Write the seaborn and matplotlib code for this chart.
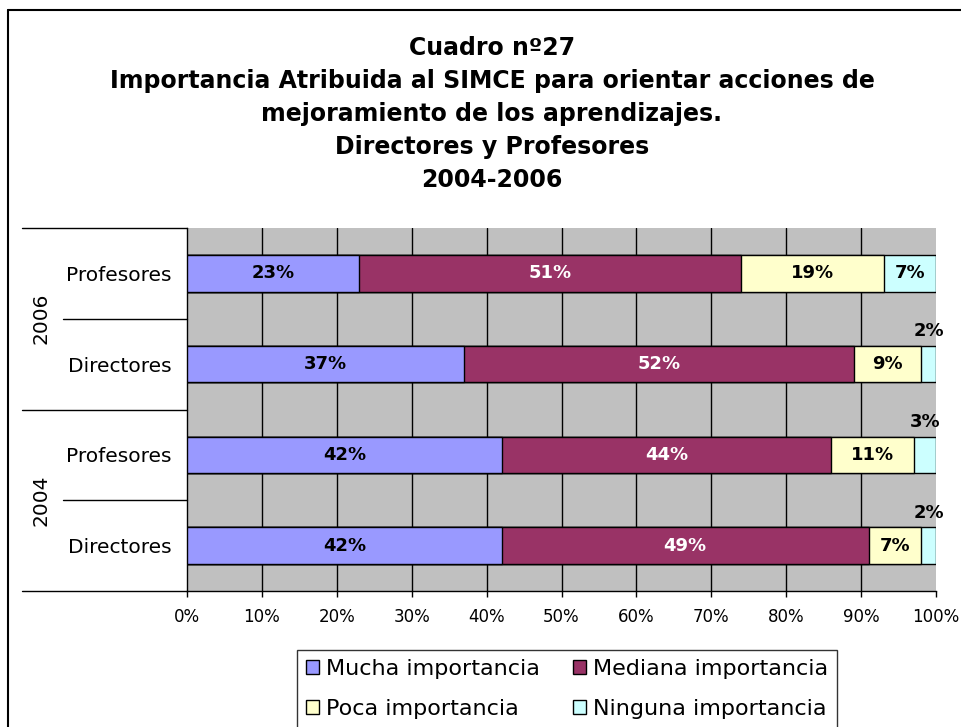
import numpy as np
import pandas as pd
import matplotlib
matplotlib.use("Agg")
import matplotlib.pyplot as plt
from matplotlib.lines import Line2D
from matplotlib.patches import Patch
import seaborn as sns

# data (percent of respondents)
rows = ["2006 Profesores", "2006 Directores", "2004 Profesores", "2004 Directores"]
row_labels = ["Profesores", "Directores", "Profesores", "Directores"]
years = ["2006", "2004"]
series = ["Mucha importancia", "Mediana importancia", "Poca importancia", "Ninguna importancia"]
mucha = [23, 37, 42, 42]
mediana = [51, 52, 44, 49]
poca = [19, 9, 11, 7]
ninguna = [7, 2, 3, 2]
colors = ["#9999FF", "#993366", "#FFFFCC", "#CCFFFF"]
text_colors = ["black", "white", "black", "black"]
x_ticks = [0, 10, 20, 30, 40, 50, 60, 70, 80, 90, 100]

title = ("Cuadro nº27\n"
         "Importancia Atribuida al SIMCE para orientar acciones de\n"
         "mejoramiento de los aprendizajes.\n"
         "Directores y Profesores\n"
         "2004-2006")

sns.set_theme(style="white")
plt.rcParams['font.family'] = ['DejaVu Sans']
plt.rcParams.update({"text.color": "black", "xtick.color": "black",
                     "ytick.color": "black", "axes.labelcolor": "black"})

fig = plt.figure(figsize=(9.62, 7.27), dpi=100)
ax = fig.add_axes([187 / 962, 136 / 727, 749 / 962, 363 / 727])
ax.set_facecolor("#C0C0C0")

df = pd.DataFrame({"row": rows, series[0]: mucha, series[1]: mediana,
                   series[2]: poca, series[3]: ninguna})
cum = df[series].cumsum(axis=1)

# stacked bars: draw cumulative totals from the largest down
for s, c in reversed(list(zip(series, colors))):
    sns.barplot(x=cum[s], y=df["row"], order=rows, color=c, width=0.4,
                edgecolor="black", linewidth=1.0, orient="h", ax=ax, zorder=3,
                saturation=1)

# data labels
for i, r in enumerate(rows):
    left = 0
    for s, tc in zip(series, text_colors):
        v = df.loc[i, s]
        xc = left + v / 2
        if v < 5 and s == series[3]:
            ax.text(xc, i - 0.36, f"{v}%", ha="center", va="center",
                    fontsize=13, fontweight="bold", color="black", zorder=5,
                    clip_on=False)
        else:
            ax.text(xc, i, f"{v}%", ha="center", va="center",
                    fontsize=13, fontweight="bold", color=tc, zorder=5)
        left += v

for xv in x_ticks[1:-1]:
    ax.axvline(xv, color="black", linewidth=1.0, zorder=1)

ax.set_xlim(0, 100)
ax.set_ylim(3.5, -0.5)
ax.set_xticks(x_ticks)
ax.set_xticklabels([f"{t}%" for t in x_ticks], fontsize=12)
ax.set_yticks(range(len(rows)))
ax.set_yticklabels(row_labels, fontsize=14.5)
ax.set_xlabel("")
ax.set_ylabel("")
ax.tick_params(axis="x", length=4, width=1, color="black", pad=8, bottom=True)
ax.tick_params(axis="y", length=0, pad=11)
for sp in ["top", "right"]:
    ax.spines[sp].set_visible(False)
for sp in ["left", "bottom"]:
    ax.spines[sp].set_color("black")
    ax.spines[sp].set_linewidth(1.0)

# group separators and year labels at the left
for yf, x0 in [(1.0, -0.2203), (0.5, -0.2203), (0.0, -0.2203), (0.75, -0.1656), (0.25, -0.1656)]:
    ax.add_line(Line2D([x0, 0], [yf, yf], transform=ax.transAxes, color="black",
                       linewidth=1.0, clip_on=False))
for yf, yr in zip([0.75, 0.25], years):
    ax.text(-0.195, yf, yr, transform=ax.transAxes, rotation=90, ha="center",
            va="center", fontsize=14.5)

fig.text(492 / 962, 1 - 36 / 727, title, ha="center", va="top", fontsize=17,
         fontweight="bold", linespacing=1.47)

# outer chart frame
fig.add_artist(Line2D([8 / 962, 8 / 962], [0, 1 - 10 / 727], color="black", linewidth=1.5))
fig.add_artist(Line2D([8 / 962, 1], [1 - 10 / 727, 1 - 10 / 727], color="black", linewidth=1.5))

# legend filled row by row like the original
order = [0, 2, 1, 3]
handles = [Patch(facecolor=colors[k], edgecolor="black", linewidth=1.0) for k in order]
labels = [series[k] for k in order]
fig.legend(handles, labels, loc="upper left", bbox_to_anchor=(297 / 962, 1 - 650 / 727),
           ncol=2, fontsize=16, frameon=True, fancybox=False, edgecolor="black",
           handlelength=0.6, handleheight=0.6, handletextpad=0.3, columnspacing=1.5,
           labelspacing=0.9, borderpad=0.4, borderaxespad=0)

fig.savefig("out.png", dpi=100)
